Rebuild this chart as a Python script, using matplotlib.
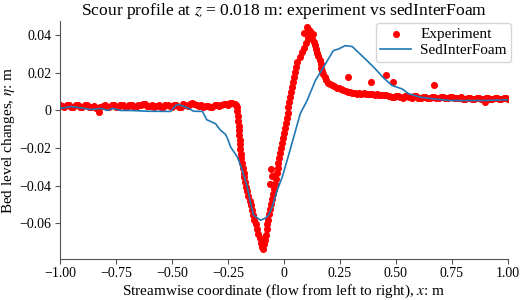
import matplotlib
matplotlib.use('Agg')
import matplotlib.pyplot as plt
from matplotlib.ticker import FuncFormatter

plt.rcParams['font.family'] = ['Liberation Serif', 'DejaVu Serif']
plt.rcParams['mathtext.fontset'] = 'stix'

# experiment (scanned bed profile)
exp_x = [
    # flat upstream bed
    -1.00, -0.98, -0.96, -0.94, -0.92, -0.90, -0.88, -0.86, -0.84, -0.82,
    -0.80, -0.78, -0.76, -0.74, -0.72, -0.70, -0.68, -0.66, -0.64, -0.62,
    -0.60, -0.58, -0.56, -0.54, -0.52, -0.50, -0.48, -0.46, -0.44, -0.42,
    -0.40, -0.38, -0.36, -0.34, -0.32, -0.30, -0.28, -0.26, -0.24, -0.22,
    -0.99, -0.97, -0.95, -0.93, -0.91, -0.89, -0.87, -0.85, -0.83, -0.81,
    -0.79, -0.77, -0.75, -0.73, -0.71, -0.69, -0.67, -0.65, -0.63, -0.61,
    -0.59, -0.57, -0.55, -0.53, -0.51, -0.49, -0.47, -0.45, -0.43, -0.41,
    -0.39, -0.37, -0.35, -0.33, -0.31, -0.29, -0.27, -0.25, -0.23, -0.215,
    -0.826,
    # upstream slope of the scour hole
    -0.212, -0.209, -0.207, -0.205, -0.203, -0.201, -0.200, -0.198, -0.196,
    -0.195, -0.193, -0.190, -0.187, -0.184, -0.180, -0.177, -0.173, -0.169,
    -0.164, -0.159, -0.154, -0.149, -0.144, -0.138, -0.133, -0.127, -0.121,
    -0.115, -0.109, -0.103, -0.097, -0.093,
    # downstream slope up to the dune crest
    -0.089, -0.086, -0.082, -0.078, -0.074, -0.070, -0.065, -0.061, -0.057,
    -0.053, -0.049, -0.045, -0.041, -0.037, -0.033, -0.029, -0.025, -0.021,
    -0.017, -0.013, -0.009, -0.005, -0.001, 0.003, 0.007, 0.012, 0.016,
    0.020, 0.024, 0.028, 0.032, 0.036, 0.040, 0.044, 0.048, 0.053, 0.060,
    0.070, 0.080, 0.090, 0.099, 0.106, 0.113,
    0.103, 0.118, 0.091, 0.131, 0.108, -0.057, -0.063, -0.052,
    # lee side of the dune
    0.120, 0.126, 0.132, 0.138, 0.144, 0.149, 0.154, 0.159, 0.163, 0.167,
    0.171, 0.176, 0.182, 0.188, 0.196, 0.205, 0.215, 0.225, 0.235, 0.245,
    0.255, 0.265, 0.275, 0.285, 0.295, 0.305, 0.315, 0.325, 0.335, 0.345,
    0.355, 0.365, 0.375, 0.385, 0.395, 0.405, 0.415, 0.425, 0.435, 0.445,
    0.455,
    0.287, 0.390, 0.457, 0.488, 0.670, 0.898,
    # flat downstream bed
    0.47, 0.49, 0.51, 0.53, 0.55, 0.57, 0.59, 0.61, 0.63, 0.65,
    0.67, 0.69, 0.71, 0.73, 0.75, 0.77, 0.79, 0.81, 0.83, 0.85,
    0.87, 0.89, 0.91, 0.93, 0.95, 0.97, 0.99, 1.00,
    0.48, 0.50, 0.52, 0.54, 0.56, 0.58, 0.60, 0.62, 0.64, 0.66,
    0.68, 0.70, 0.72, 0.74, 0.76, 0.78, 0.80, 0.82, 0.84, 0.86,
    0.88, 0.90, 0.92, 0.94, 0.96, 0.98,
]
exp_y = [
    0.0030, 0.0020, 0.0029, 0.0019, 0.0027, 0.0020, 0.0030, 0.0019, 0.0012, 0.0020,
    0.0029, 0.0020, 0.0027, 0.0018, 0.0028, 0.0020, 0.0029, 0.0020, 0.0031, 0.0034,
    0.0024, 0.0019, 0.0028, 0.0021, 0.0029, 0.0019, 0.0027, 0.0021, 0.0030, 0.0035,
    0.0033, 0.0022, 0.0020, 0.0026, 0.0021, 0.0027, 0.0029, 0.0036, 0.0039, 0.0036,
    0.0024, 0.0031, 0.0021, 0.0028, 0.0018, 0.0027, 0.0021, 0.0025, 0.0008, 0.0026,
    0.0020, 0.0030, 0.0019, 0.0027, 0.0021, 0.0031, 0.0018, 0.0030, 0.0036, 0.0026,
    0.0031, 0.0024, 0.0020, 0.0030, 0.0022, 0.0029, 0.0020, 0.0032, 0.0024, 0.0038,
    0.0027, 0.0030, 0.0023, 0.0020, 0.0029, 0.0022, 0.0034, 0.0030, 0.0041, 0.0030,
    -0.0010,
    0.0020, -0.0005, -0.0030, -0.0055, -0.0080, -0.0105, -0.0130, -0.0155, -0.0180,
    -0.0205, -0.0230, -0.0255, -0.0280, -0.0305, -0.0330, -0.0355, -0.0380, -0.0405,
    -0.0430, -0.0455, -0.0480, -0.0505, -0.0530, -0.0555, -0.0580, -0.0605, -0.0630,
    -0.0655, -0.0680, -0.0705, -0.0728, -0.0738,
    -0.0712, -0.0688, -0.0660, -0.0633, -0.0606, -0.0580, -0.0552, -0.0524, -0.0497,
    -0.0470, -0.0443, -0.0416, -0.0389, -0.0362, -0.0335, -0.0308, -0.0281, -0.0254,
    -0.0227, -0.0200, -0.0173, -0.0146, -0.0119, -0.0092, -0.0065, -0.0038, -0.0011,
    0.0016, 0.0043, 0.0070, 0.0097, 0.0124, 0.0151, 0.0178, 0.0205, 0.0233, 0.0260,
    0.0285, 0.0310, 0.0335, 0.0360, 0.0385, 0.0405,
    0.0446, 0.0424, 0.0410, 0.0408, 0.0432, -0.0313, -0.0389, -0.0350,
    0.0395, 0.0378, 0.0362, 0.0346, 0.0328, 0.0308, 0.0288, 0.0268, 0.0248, 0.0228,
    0.0210, 0.0194, 0.0176, 0.0160, 0.0148, 0.0140, 0.0133, 0.0128, 0.0122, 0.0118,
    0.0115, 0.0110, 0.0104, 0.0100, 0.0096, 0.0094, 0.0092, 0.0090, 0.0091, 0.0088,
    0.0092, 0.0087, 0.0090, 0.0086, 0.0089, 0.0084, 0.0086, 0.0082, 0.0085, 0.0080,
    0.0083,
    0.0180, 0.0149, 0.0190, 0.0149, 0.0138, 0.0044,
    0.0079, 0.0071, 0.0078, 0.0069, 0.0076, 0.0068, 0.0075, 0.0067, 0.0074, 0.0066,
    0.0073, 0.0065, 0.0072, 0.0066, 0.0071, 0.0064, 0.0070, 0.0063, 0.0069, 0.0062,
    0.0068, 0.0061, 0.0067, 0.0062, 0.0066, 0.0061, 0.0065, 0.0062,
    0.0074, 0.0079, 0.0072, 0.0077, 0.0070, 0.0075, 0.0069, 0.0074, 0.0068, 0.0073,
    0.0066, 0.0072, 0.0065, 0.0070, 0.0064, 0.0069, 0.0063, 0.0068, 0.0062, 0.0067,
    0.0061, 0.0066, 0.0061, 0.0065, 0.0060, 0.0064,
]

# sedInterFoam result
sim_x = [-1.00, -0.951, -0.906, -0.862, -0.817, -0.788, -0.765, -0.728, -0.684,
         -0.609, -0.506, -0.483, -0.470, -0.431, -0.403, -0.364, -0.345, -0.305,
         -0.283, -0.261, -0.252, -0.238, -0.208, -0.186, -0.164, -0.149, -0.136,
         -0.105, -0.083, -0.069, -0.053, -0.030, -0.008, 0.014, 0.038, 0.073,
         0.103, 0.140, 0.176, 0.220, 0.243, 0.274, 0.305, 0.332, 0.371, 0.408,
         0.443, 0.482, 0.527, 0.555, 0.608, 0.666, 0.742, 0.889, 1.00]
sim_y = [0.0011, 0.0021, 0.0014, 0.0005, 0.0011, 0.0000, 0.0011, 0.0000, 0.0000,
         -0.0004, -0.0005, 0.0027, 0.0032, 0.0014, -0.0004, -0.0005, -0.0049, -0.0071,
         -0.0106, -0.0127, -0.0149, -0.0195, -0.0248, -0.0318, -0.0407, -0.0493, -0.0557,
         -0.0584, -0.0573, -0.0557, -0.0515, -0.0424, -0.0354, -0.0265, -0.0164, -0.0016,
         0.0053, 0.0159, 0.0230, 0.0318, 0.0327, 0.0345, 0.0340, 0.0309, 0.0265, 0.0221,
         0.0175, 0.0133, 0.0115, 0.0090, 0.0071, 0.0062, 0.0053, 0.0053, 0.0057]

x_ticks = [-1.0, -0.75, -0.5, -0.25, 0.0, 0.25, 0.5, 0.75, 1.0]
y_ticks = [-0.06, -0.04, -0.02, 0.0, 0.02, 0.04]

fig = plt.figure(figsize=(5.2, 3.0), dpi=100)
ax = fig.add_axes([0.1154, 0.1367, 0.8615, 0.7933])

ax.scatter(exp_x, exp_y, s=26, color='red', linewidths=0, label='Experiment', zorder=2)
ax.plot(sim_x, sim_y, color='#1f77b4', lw=1.2, label='SedInterFoam', zorder=3)

ax.set_xlim(-1, 1)
ax.set_ylim(-0.079, 0.0476)
ax.set_xticks(x_ticks)
ax.set_yticks(y_ticks)


def fmt(v, pos):
    if abs(v) < 1e-12:
        return '0'
    return ('%.2f' % v).replace('-', '\u2212')


ax.xaxis.set_major_formatter(FuncFormatter(fmt))
ax.yaxis.set_major_formatter(FuncFormatter(fmt))
ax.tick_params(labelsize=10, length=3.5, width=0.8, pad=2.5, color='#555555')
for s in ['top', 'right']:
    ax.spines[s].set_visible(False)
for s in ['left', 'bottom']:
    ax.spines[s].set_color('#555555')

ax.set_title('Scour profile at $z$ = 0.018 m: experiment vs sedInterFoam', fontsize=12.6, pad=1.5)
ax.set_xlabel('Streamwise coordinate (flow from left to right), $x$: m', fontsize=11, labelpad=2)
ax.set_ylabel('Bed level changes, $\\eta$: m', fontsize=11, labelpad=2)
ax.legend(loc='upper right', bbox_to_anchor=(1.007, 0.992), borderaxespad=0,
          fontsize=11, scatterpoints=1, handletextpad=0.6, labelspacing=0.15,
          borderpad=0.3, framealpha=0.8)

fig.savefig('out.png', dpi=100)
